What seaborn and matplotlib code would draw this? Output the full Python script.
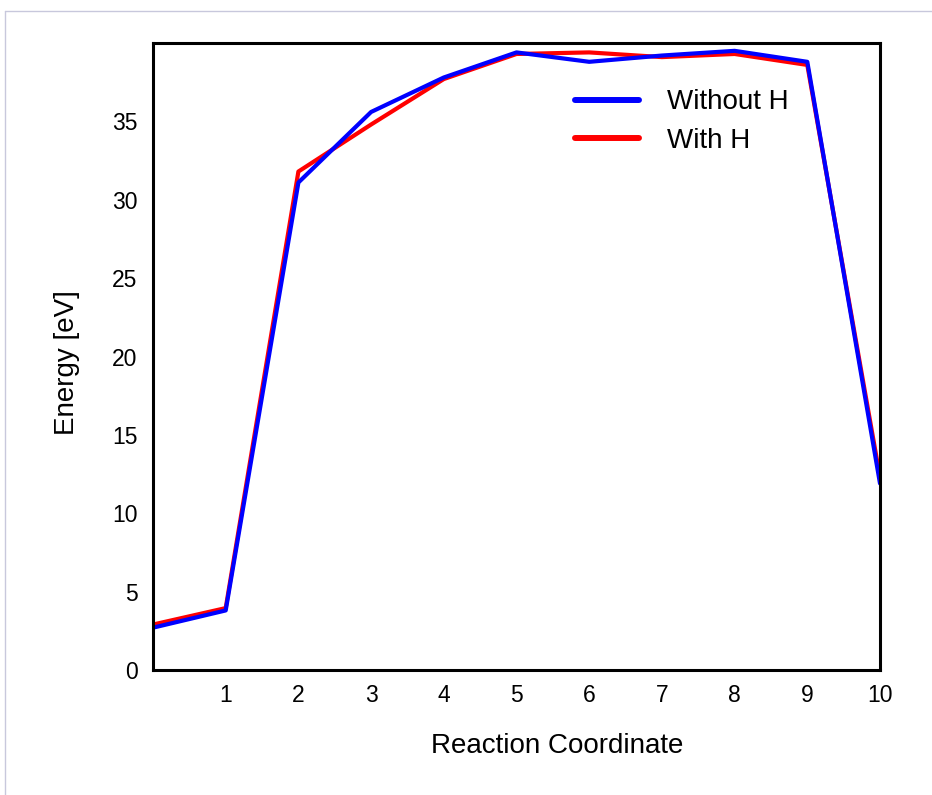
import matplotlib
matplotlib.use("Agg")
import matplotlib.pyplot as plt
from matplotlib.lines import Line2D
import seaborn as sns
import pandas as pd

# Data
reaction_coordinate = [0, 1, 2, 3, 4, 5, 6, 7, 8, 9, 10]
energy_without_h = [2.7, 3.8, 31.1, 35.6, 37.8, 39.4, 38.8, 39.2, 39.5, 38.8, 11.9]
energy_with_h = [2.9, 3.95, 31.8, 34.8, 37.7, 39.3, 39.4, 39.1, 39.3, 38.6, 12.3]
series_names = ["Without H", "With H"]
x_ticks = [1, 2, 3, 4, 5, 6, 7, 8, 9, 10]
y_ticks = [0, 5, 10, 15, 20, 25, 30, 35]

df = pd.DataFrame({
    "x": reaction_coordinate * 2,
    "Energy": energy_with_h + energy_without_h,
    "Series": [series_names[1]] * len(energy_with_h) + [series_names[0]] * len(energy_without_h),
})

sns.set_style("white")
plt.rcParams["font.family"] = ["Liberation Sans", "DejaVu Sans"]
plt.rcParams["text.color"] = "black"
plt.rcParams["axes.labelcolor"] = "black"

fig = plt.figure(figsize=(9.32, 7.95), dpi=100)
ax = fig.add_axes([153 / 932, 1 - 670 / 795, 727 / 932, 627 / 795])

palette = {"Without H": "#0000ff", "With H": "#ff0000"}
sns.lineplot(data=df, x="x", y="Energy", hue="Series", hue_order=["With H", "Without H"],
             palette=palette, linewidth=3.0, ax=ax, legend=False, sort=False)

ax.set_xlim(0, 10)
ax.set_ylim(0, 40)
ax.set_xticks(x_ticks)
ax.set_yticks(y_ticks)
ax.tick_params(axis="both", direction="in", length=8.5, width=2.2, labelsize=16.5,
               color="black", labelcolor="black")
ax.tick_params(axis="x", pad=10)
ax.tick_params(axis="y", pad=11)
for s in ax.spines.values():
    s.set_visible(True)
    s.set_linewidth(2.2)
    s.set_color("black")

ax.set_xlabel("Reaction Coordinate", fontsize=20, color="black")
ax.set_ylabel("Energy [eV]", fontsize=20, color="black")
ax.xaxis.set_label_coords((557 - 153) / 727, (670 - 733) / 627)
ax.yaxis.set_label_coords((80 - 153) / 727, 0.49)

handles = [Line2D([0], [0], color=palette[n], lw=4.3) for n in series_names]
leg = ax.legend(handles, series_names, loc="upper left", bbox_to_anchor=(0.565, 0.944),
                frameon=False, fontsize=20, handlelength=2.3, handletextpad=1.0,
                labelspacing=0.45, borderaxespad=0)
for t in leg.get_texts():
    t.set_color("black")

# light frame around figure
fig.add_artist(Line2D([4.5 / 932, 4.5 / 932], [0, 1 - 10.5 / 795], color="#c8c8dc", lw=1,
                      transform=fig.transFigure))
fig.add_artist(Line2D([4.5 / 932, 1], [1 - 10.5 / 795, 1 - 10.5 / 795], color="#c8c8dc", lw=1,
                      transform=fig.transFigure))

fig.savefig("out.png", dpi=100)
